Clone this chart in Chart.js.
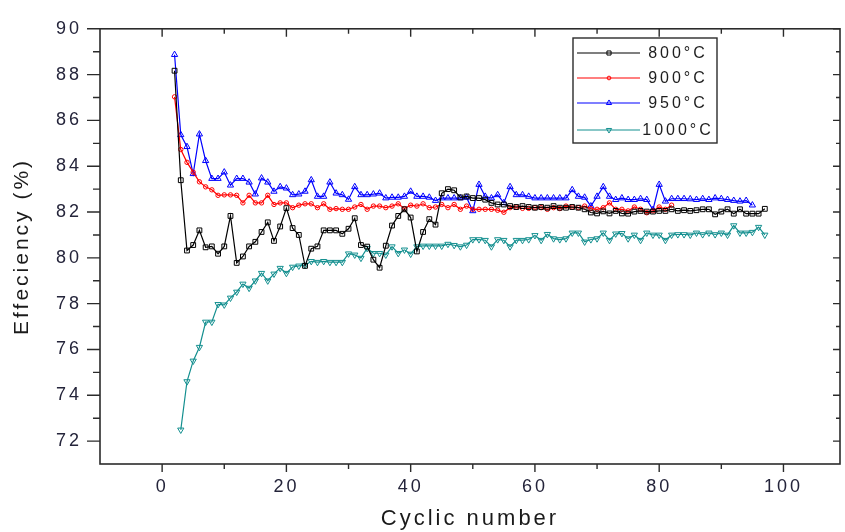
<!DOCTYPE html>
<html>
<head>
<meta charset="utf-8">
<script src="https://cdn.jsdelivr.net/npm/chart.js@4.4.1/dist/chart.umd.min.js"></script>
<style>
  html, body { margin: 0; padding: 0; background: #fff; }
  canvas { display: block; }
</style>
</head>
<body>
<canvas id="chart1" width="845" height="532"></canvas>
<script>
//////////////////////////// DATA ////////////////////////////

const seriesLabels = ['800°C', '900°C', '950°C', '1000°C'];
const firstCycle = [2, 2, 2, 3]; // cycle number of the first value of each series

// 800°C, cycles 2..97
const eff800 = [
  88.17, 83.39, 80.32, 80.56, 81.2, 80.46, 80.5, 80.18, 80.5, 81.83,
  79.78, 80.06, 80.5, 80.7, 81.13, 81.55, 80.74, 81.37, 82.17, 81.3,
  81.0, 79.65, 80.4, 80.5, 81.2, 81.2, 81.2, 81.05, 81.27, 81.73,
  80.56, 80.49, 79.92, 79.57, 80.53, 81.41, 81.83, 82.12, 81.76, 80.28,
  81.13, 81.69, 81.45, 82.82, 83.0, 82.95, 82.64, 82.68, 82.61, 82.61,
  82.54, 82.4, 82.33, 82.33, 82.26, 82.22, 82.26, 82.22, 82.19, 82.22,
  82.19, 82.26, 82.19, 82.19, 82.22, 82.19, 82.12, 81.98, 81.94, 82.03,
  81.94, 82.05, 81.94, 81.93, 82.02, 82.05, 82.02, 82.02, 82.05, 82.05,
  82.12, 82.05, 82.08, 82.05, 82.08, 82.12, 82.12, 81.9, 82.02, 82.12,
  81.93, 82.12, 81.93, 81.93, 81.93, 82.14
];

// 900°C, cycles 2..82
const eff900 = [
  87.03, 84.73, 84.17, 83.74, 83.32, 83.1, 82.97, 82.73, 82.75, 82.75,
  82.73, 82.4, 82.73, 82.4, 82.4, 82.73, 82.33, 82.4, 82.4, 82.19,
  82.3, 82.36, 82.36, 82.19, 82.36, 82.12, 82.15, 82.12, 82.12, 82.22,
  82.33, 82.12, 82.26, 82.26, 82.19, 82.26, 82.36, 82.15, 82.3, 82.26,
  82.36, 82.19, 82.22, 82.33, 82.19, 82.33, 82.12, 82.26, 82.12, 82.12,
  82.12, 82.12, 82.08, 81.99, 82.19, 82.22, 82.16, 82.16, 82.19, 82.19,
  82.12, 82.19, 82.15, 82.26, 82.22, 82.19, 82.26, 82.15, 82.12, 82.19,
  82.4, 82.12, 82.12, 82.05, 82.22, 82.12, 81.97, 82.05, 82.22, 82.12,
  82.3
];

// 950°C, cycles 2..95
const eff950 = [
  88.87, 85.37, 84.85, 83.67, 85.4, 84.24, 83.46, 83.46, 83.74, 83.17,
  83.46, 83.46, 83.3, 82.78, 83.48, 83.3, 82.9, 83.1, 83.04, 82.75,
  82.78, 82.9, 83.4, 82.68, 82.68, 83.3, 82.82, 82.75, 82.55, 83.1,
  82.75, 82.75, 82.78, 82.82, 82.61, 82.64, 82.64, 82.68, 82.9, 82.68,
  82.68, 82.64, 82.5, 82.61, 82.61, 82.61, 82.61, 82.64, 82.05, 83.2,
  82.68, 82.61, 82.75, 82.4, 83.1, 82.75, 82.75, 82.68, 82.61, 82.61,
  82.61, 82.61, 82.61, 82.61, 82.97, 82.68, 82.64, 82.26, 82.68, 83.1,
  82.68, 82.54, 82.61, 82.54, 82.54, 82.58, 82.54, 82.1, 83.2, 82.47,
  82.58, 82.58, 82.58, 82.57, 82.54, 82.58, 82.54, 82.61, 82.58, 82.54,
  82.5, 82.47, 82.5, 82.3
];

// 1000°C, cycles 3..97
const eff1000 = [
  72.49, 74.6, 75.5, 76.1, 77.2, 77.2, 77.97, 77.95, 78.25, 78.51,
  78.86, 78.68, 79.0, 79.33, 79.0, 79.3, 79.55, 79.33, 79.6, 79.65,
  79.68, 79.85, 79.81, 79.85, 79.81, 79.81, 79.81, 80.18, 80.13, 79.99,
  80.42, 80.2, 80.2, 80.13, 80.49, 80.2, 80.35, 80.17, 80.49, 80.52,
  80.52, 80.52, 80.52, 80.6, 80.55, 80.49, 80.56, 80.8, 80.8, 80.77,
  80.49, 80.8, 80.77, 80.49, 80.77, 80.77, 80.8, 80.98, 80.77, 81.03,
  80.84, 80.8, 80.84, 81.09, 81.09, 80.7, 80.8, 80.84, 81.09, 80.77,
  81.05, 81.07, 80.84, 81.0, 80.77, 81.09, 81.0, 81.0, 80.77, 81.0,
  81.02, 81.02, 81.0, 81.09, 81.02, 81.09, 81.02, 81.09, 81.0, 81.41,
  81.09, 81.09, 81.12, 81.34, 81.0
];

const xTicks = [0, 20, 40, 60, 80, 100];
const xMinorTicks = [10, 30, 50, 70, 90];
const yTicks = [72, 74, 76, 78, 80, 82, 84, 86, 88, 90];
const yMinorTicks = [73, 75, 77, 79, 81, 83, 85, 87, 89];

//////////////////////////// STYLE ////////////////////////////

const lineColors = ['#000000', '#ff0000', '#0000ff', '#138f8f'];
const pointStyles = ['rect', 'circle', 'triangle', 'triangle'];
const pointRadii = [3.4, 2.2, 3.6, 3.6];
const pointRotations = [0, 0, 0, 180];
const axisColor = '#2b2b2b';
const textColor = '#24243a';
const fontFamily = "'Liberation Sans', Arial, sans-serif";

const allSeries = [eff800, eff900, eff950, eff1000];

let dataSets = [];
for (let i = 0; i < allSeries.length; i++) {
  dataSets.push({
    label: seriesLabels[i],
    data: allSeries[i].map((v, k) => ({ x: firstCycle[i] + k, y: v })),
    borderColor: lineColors[i],
    backgroundColor: 'rgba(0,0,0,0)',
    borderWidth: 1.2,
    pointStyle: pointStyles[i],
    pointRadius: pointRadii[i],
    pointRotation: pointRotations[i],
    pointBorderColor: lineColors[i],
    pointBackgroundColor: 'rgba(0,0,0,0)',
    pointBorderWidth: 1,
    tension: 0
  });
}

//////////////////////////// PLUGINS ////////////////////////////

// axis frame on four sides + major/minor ticks like the Origin plot
const framePlugin = {
  id: 'frame',
  beforeDraw(chart) {
    chart.ctx.letterSpacing = '3px';
  },
  afterDatasetsDraw(chart) {
    const { ctx, chartArea: a, scales: { x, y } } = chart;
    ctx.save();
    ctx.strokeStyle = axisColor;
    ctx.lineWidth = 1.6;
    ctx.strokeRect(a.left, a.top, a.right - a.left, a.bottom - a.top);
    ctx.lineWidth = 1.4;
    ctx.beginPath();
    const xt = (v, len) => {
      const px = x.getPixelForValue(v);
      ctx.moveTo(px, a.bottom); ctx.lineTo(px, a.bottom + len);
      ctx.moveTo(px, a.top); ctx.lineTo(px, a.top + len);
    };
    const yt = (v, outLen, inLen) => {
      const py = y.getPixelForValue(v);
      ctx.moveTo(a.left, py); ctx.lineTo(a.left - outLen, py);
      ctx.moveTo(a.right, py); ctx.lineTo(a.right - inLen, py);
    };
    xTicks.forEach(v => xt(v, 8));
    xMinorTicks.forEach(v => xt(v, 5));
    yTicks.forEach(v => yt(v, 13, 7));
    yMinorTicks.forEach(v => yt(v, 7, 4));
    ctx.stroke();
    ctx.restore();
  }
};

// boxed legend in the upper right
const legendPlugin = {
  id: 'boxLegend',
  afterDraw(chart) {
    const ctx = chart.ctx;
    const box = { left: 573, top: 38, right: 717, bottom: 143 };
    const rows = [53, 78, 103, 130];
    ctx.save();
    ctx.strokeStyle = axisColor;
    ctx.lineWidth = 1.4;
    ctx.strokeRect(box.left, box.top, box.right - box.left, box.bottom - box.top);
    chart.data.datasets.forEach((ds, i) => {
      const yy = rows[i];
      ctx.strokeStyle = ds.borderColor;
      ctx.lineWidth = 1.2;
      ctx.beginPath();
      ctx.moveTo(577, yy);
      ctx.lineTo(640, yy);
      ctx.stroke();
      ctx.fillStyle = 'rgba(0,0,0,0)';
      ctx.lineWidth = 1;
      Chart.helpers.drawPoint(ctx, {
        pointStyle: ds.pointStyle,
        radius: ds.pointRadius * 0.85,
        rotation: ds.pointRotation,
        borderWidth: 1
      }, 609, yy);
      ctx.fillStyle = '#1e1e1e';
      ctx.font = '16px ' + fontFamily;
      ctx.textAlign = 'center';
      ctx.textBaseline = 'middle';
      ctx.fillText(ds.label, 678, yy + 1);
    });
    ctx.restore();
  }
};

//////////////////////////// CHART JS ////////////////////////////

const config = {
  type: 'line',
  data: { datasets: dataSets },
  options: {
    responsive: false,
    animation: false,
    devicePixelRatio: 1,
    layout: { padding: { top: 16, right: 1, left: 0, bottom: 0 } },
    plugins: {
      legend: { display: false },
      tooltip: { enabled: false }
    },
    scales: {
      x: {
        type: 'linear',
        min: -10,
        max: 109.1,
        afterBuildTicks: s => { s.ticks = xTicks.map(v => ({ value: v })); },
        afterFit: s => { s.height = 68; },
        grid: { display: false, drawTicks: false },
        border: { display: false },
        ticks: {
          padding: 12,
          color: textColor,
          font: { family: fontFamily, size: 18 },
          maxRotation: 0
        },
        title: {
          display: true,
          text: 'Cyclic number',
          color: '#1a1a1a',
          font: { family: fontFamily, size: 22 },
          padding: { top: 0, bottom: 0 }
        }
      },
      y: {
        type: 'linear',
        min: 71,
        max: 90,
        afterBuildTicks: s => { s.ticks = yTicks.map(v => ({ value: v })); },
        afterFit: s => { s.width = 100; },
        grid: { display: false, drawTicks: false },
        border: { display: false },
        ticks: {
          padding: 18,
          color: textColor,
          font: { family: fontFamily, size: 18 }
        },
        title: {
          display: true,
          text: 'Effeciency (%)',
          color: '#1a1a1a',
          font: { family: fontFamily, size: 21 },
          padding: { top: 10, bottom: 0 }
        }
      }
    }
  },
  plugins: [framePlugin, legendPlugin]
};

const myChart = new Chart(document.getElementById('chart1'), config);
</script>
</body>
</html>
